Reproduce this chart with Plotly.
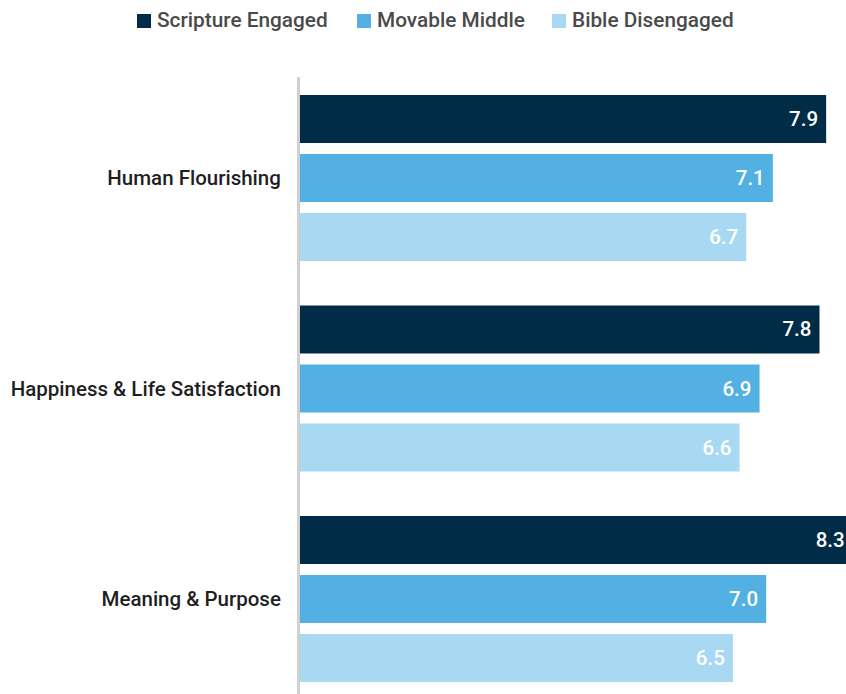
import plotly.graph_objects as go

# Survey outcome scores by scripture engagement segment
categories = ["Human Flourishing", "Happiness & Life Satisfaction", "Meaning & Purpose"]
series_names = ["Scripture Engaged", "Movable Middle", "Bible Disengaged"]
scripture_engaged = [7.9, 7.8, 8.3]
movable_middle = [7.1, 6.9, 7.0]
bible_disengaged = [6.7, 6.6, 6.5]

colors = ["#012c48", "#53b0e3", "#a9d9f2"]
series_values = [scripture_engaged, movable_middle, bible_disengaged]

FONT = "Roboto"

fig = go.Figure()
for name, vals, col in zip(series_names, series_values, colors):
    fig.add_trace(go.Bar(
        y=categories,
        x=vals,
        name=name,
        orientation="h",
        marker=dict(color=col, line=dict(width=0)),
        texttemplate="%{x:.1f}\u00a0",
        textposition="inside",
        insidetextanchor="end",
        textangle=0,
        insidetextfont=dict(family=FONT, size=20.5, color="white", weight=500),
        constraintext="none",
        showlegend=False,
    ))

# Legend drawn as pixel-sized swatches and labels above the plot
legend_x = [-163, 57, 252]     # swatch left edge, px from plot's left edge
for name, col, lx in zip(series_names, colors, legend_x):
    fig.add_shape(
        type="rect", xref="paper", yref="paper",
        xsizemode="pixel", ysizemode="pixel",
        xanchor=0, yanchor=1,
        x0=lx, x1=lx + 14, y0=49, y1=63,
        fillcolor=col, line=dict(width=0),
    )
    fig.add_annotation(
        xref="paper", yref="paper", x=0, y=1,
        xanchor="left", yanchor="middle",
        xshift=lx + 18, yshift=57,
        text=name, showarrow=False,
        font=dict(family=FONT, size=20.8, color="#4a4a4a", weight=500),
    )

fig.update_layout(
    width=846, height=694,
    margin=dict(l=300, r=0, t=77, b=0),
    paper_bgcolor="white", plot_bgcolor="white",
    barmode="group",
    bargap=0.159,
    bargroupgap=0.186,
    font=dict(family=FONT),
)
fig.update_xaxes(
    range=[0, 8.198], visible=False, showgrid=False, zeroline=False,
)
fig.update_yaxes(
    type="category",
    range=[2.4513, -0.4798],
    showline=True, linecolor="#d0d0d0", linewidth=3,
    showgrid=False, zeroline=False, ticks="",
    automargin=False,
    ticklabelstandoff=12,
    tickfont=dict(family=FONT, size=20.5, color="#1f1f1f", weight=500),
)

fig.write_html("out.html")
